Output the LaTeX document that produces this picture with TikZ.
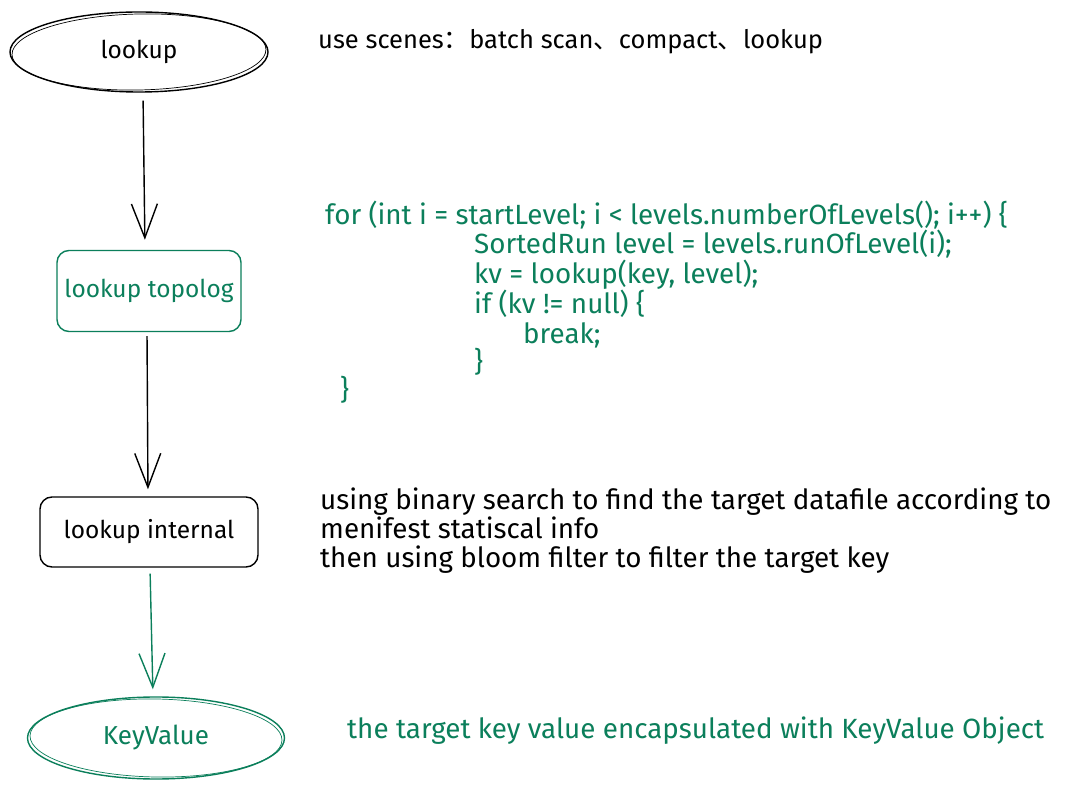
\documentclass[tikz,border=0pt]{standalone}
\usepackage{fontspec}
\setmainfont{Fira Sans}
\newfontfamily\cjk{Noto Sans CJK SC}
\usetikzlibrary{shapes.geometric,arrows.meta}
\definecolor{exgreen}{HTML}{0B7F5B}
\tikzset{
  every node/.style={inner sep=0pt},
  nodefont/.style={font=\fontsize{24.5}{29}\selectfont},
  notefont/.style={font=\fontsize{27.8}{32}\selectfont},
  ovalbox/.style={ellipse, draw, line width=1.4pt, nodefont},
  roundbox/.style={rectangle, rounded corners=12pt, draw, line width=1.4pt, nodefont},
  arr/.style={line width=1.4pt, -{Straight Barb[length=34pt,width=26pt,line width=1.4pt]}},
  txt/.style={anchor=base west, notefont},
}
\begin{document}
\begin{tikzpicture}[x=1pt,y=-1pt]
\useasboundingbox (0,0) rectangle (1080,791);
\fill[white] (0,0) rectangle (1080,791);

% flow nodes
\node[ovalbox, minimum width=258pt, minimum height=80pt] (lookup) at (139,52) {lookup};
\node[roundbox, draw=exgreen, text=exgreen, minimum width=184pt, minimum height=81pt] (topolog) at (149,291) {lookup topolog};
\node[roundbox, minimum width=218pt, minimum height=70pt] (internal) at (149,532) {lookup internal};
\node[ovalbox, draw=exgreen, text=exgreen, minimum width=257pt, minimum height=82pt, font=\fontsize{26}{30}\selectfont] (kv) at (156,738) {KeyValue};

% sketchy second strokes
\draw[line width=0.7pt, rotate around={1.2:(lookup.center)}] (lookup.center) ellipse [x radius=127pt, y radius=38pt];
\draw[exgreen, line width=0.7pt, rotate around={-1:(kv.center)}] (kv.center) ellipse [x radius=126pt, y radius=39pt];

% connectors
\draw[arr, shorten <=8pt, shorten >=10pt] ([xshift=4pt]lookup.south) -- ([xshift=-4pt]topolog.north);
\draw[arr, shorten <=4pt, shorten >=7pt] ([xshift=-2pt]topolog.south) -- ([xshift=-1pt]internal.north);
\draw[arr, exgreen, shorten <=6pt, shorten >=7pt] ([xshift=1pt]internal.south) -- ([xshift=-3pt]kv.north);

% annotations
\node[txt, font=\fontsize{25.5}{30}\selectfont] (scenes) at (318,49) {use scenes{\cjk ：}batch scan{\cjk 、}compact{\cjk 、}lookup};

\begin{scope}[every node/.append style={text=exgreen}]
\node[txt] (c1) at (325,225) {for (int i = startLevel; i < levels.numberOfLevels(); i++) \{};
\node[txt] (c2) at (474,254) {SortedRun level = levels.runOfLevel(i);};
\node[txt] (c3) at (474,284) {kv = lookup(key, level);};
\node[txt] (c4) at (474,314) {if (kv != null) \{};
\node[txt] (c5) at (523,344) {break;};
\node[txt] (c6) at (474,372) {\}};
\node[txt] (c7) at (340,400) {\}};
\end{scope}

\node[txt] (d1) at (320,510) {using binary search to find the target datafile according to};
\node[txt] (d2) at (320,539) {menifest statiscal info};
\node[txt] (d3) at (320,568) {then using bloom filter to filter the target key};

\node[txt, text=exgreen] (kvnote) at (347,738) {the target key value encapsulated with KeyValue Object};
\end{tikzpicture}
\end{document}
